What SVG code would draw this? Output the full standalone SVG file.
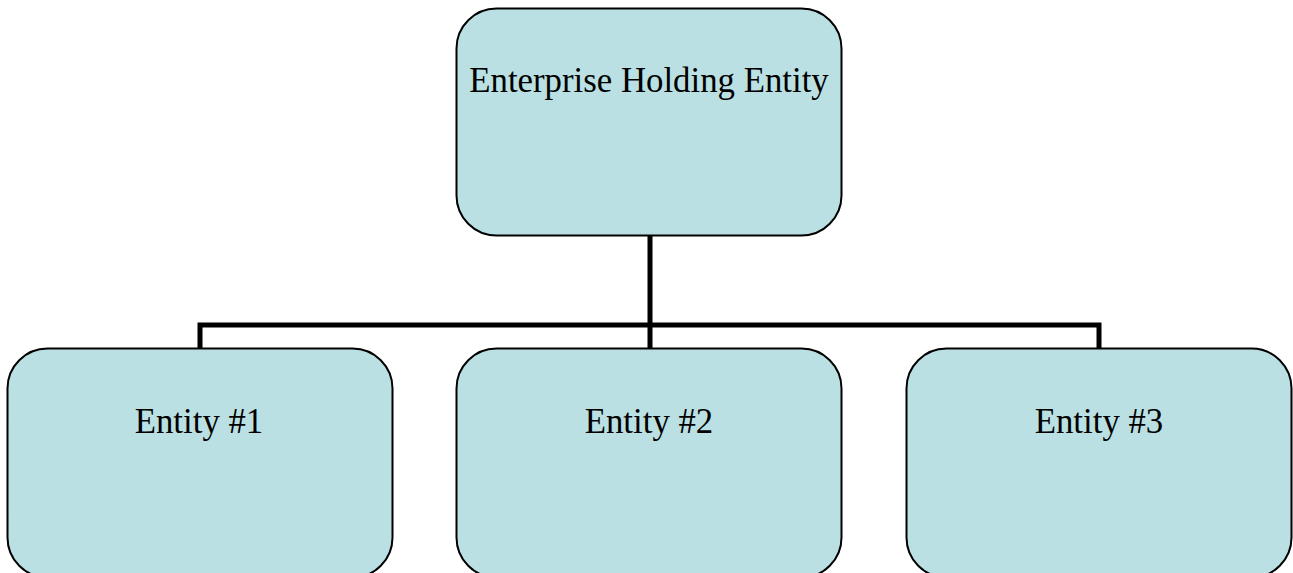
<svg xmlns="http://www.w3.org/2000/svg" width="1293" height="573" viewBox="0 0 1293 573">
<style>
.box{fill:#BAE0E3;stroke:#000;stroke-width:2}
.lbl{font-family:"Liberation Serif","Times New Roman",serif;font-size:34.8px;fill:#000;text-anchor:middle}
.conn{fill:none;stroke:#000;stroke-width:5;stroke-linejoin:miter}
</style>
<rect width="1293" height="573" fill="#fff"/>
<g id="connectors">
<path class="conn" d="M650 235 V325"/>
<path class="conn" d="M200 348 V325 H1099 V348"/>
<path class="conn" d="M650 325 V348"/>
</g>
<g id="root">
<rect class="box" x="456.5" y="8.5" width="385" height="227" rx="40" ry="40"/>
<text class="lbl" x="649" y="92">Enterprise Holding Entity</text>
</g>
<g id="entity1">
<rect class="box" x="7.5" y="348.5" width="385" height="229" rx="40" ry="40"/>
<text class="lbl" x="199" y="433">Entity #1</text>
</g>
<g id="entity2">
<rect class="box" x="456.5" y="348.5" width="385" height="229" rx="40" ry="40"/>
<text class="lbl" x="649" y="433">Entity #2</text>
</g>
<g id="entity3">
<rect class="box" x="906.5" y="348.5" width="385" height="229" rx="40" ry="40"/>
<text class="lbl" x="1099" y="433">Entity #3</text>
</g>
</svg>
